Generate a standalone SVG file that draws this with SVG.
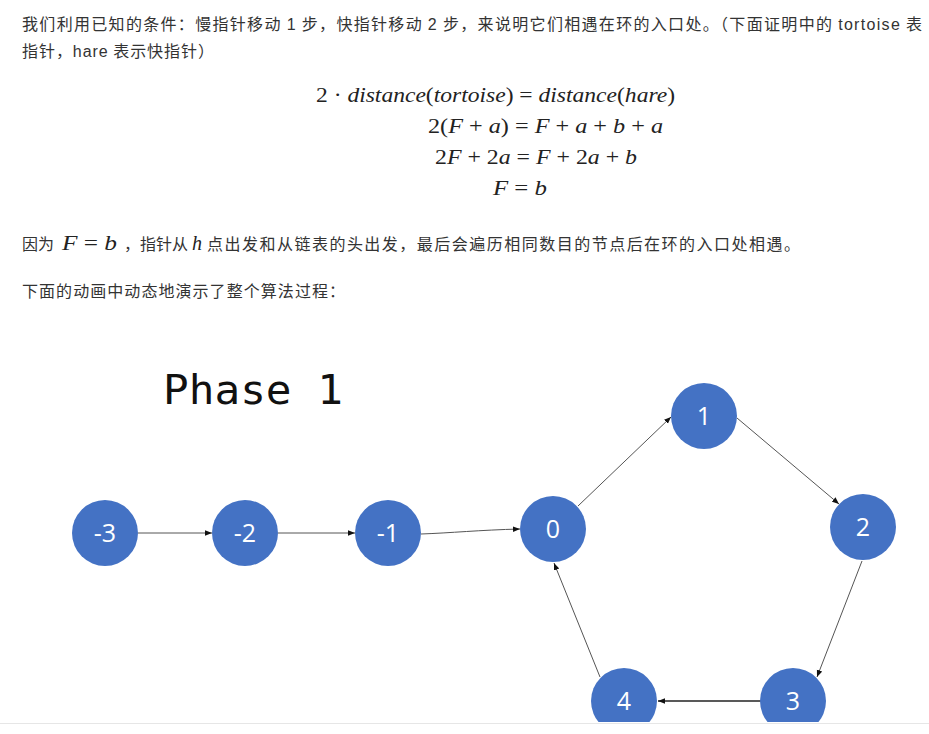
<svg xmlns="http://www.w3.org/2000/svg" width="929" height="734" viewBox="0 0 929 734">
<style>
.body{font-family:"Noto Sans CJK SC","Liberation Sans",sans-serif;font-size:16px;fill:#333}
.lat{font-family:"Liberation Sans","Noto Sans CJK SC",sans-serif}
.math{font-family:"Liberation Serif","DejaVu Serif",serif;font-size:20px;fill:#222}
.it{font-style:italic}
.node circle{fill:#4472C4}
.node text{font-family:"Open Sans","Noto Sans",sans-serif;font-size:25px;fill:#fff;text-anchor:middle}
.edge{fill:none;stroke:#555;stroke-width:1}
.edge.strong{stroke:#222;stroke-width:1.5}
.title{font-family:"DejaVu Sans Mono","Liberation Mono",monospace;font-size:40px;fill:#111}
</style>
<defs>
<marker id="ah" viewBox="0 0 10 10" refX="10" refY="5" markerWidth="7" markerHeight="7" markerUnits="userSpaceOnUse" orient="auto">
<path d="M0,1 L10,5 L0,9 z" fill="#111"/>
</marker>
<clipPath id="clip"><rect x="0" y="0" width="929" height="722"/></clipPath>
</defs>
<rect width="929" height="734" fill="#fff"/>

<g id="paragraph">
<text class="body" x="22" y="30" textLength="900" lengthAdjust="spacing">我们利用已知的条件：慢指针移动 <tspan class="lat">1</tspan> 步，快指针移动 <tspan class="lat">2</tspan> 步，来说明它们相遇在环的入口处。（下面证明中的 <tspan class="lat">tortoise</tspan> 表</text>
<text class="body" x="22" y="57" textLength="192" lengthAdjust="spacing">指针，<tspan class="lat">hare</tspan> 表示快指针）</text>
</g>

<g id="equations">
<text class="math" x="316" y="102" textLength="359" lengthAdjust="spacingAndGlyphs">2 · <tspan class="it">distance</tspan>(<tspan class="it">tortoise</tspan>) = <tspan class="it">distance</tspan>(<tspan class="it">hare</tspan>)</text>
<text class="math" x="428" y="133" textLength="235" lengthAdjust="spacingAndGlyphs">2(<tspan class="it">F</tspan> + <tspan class="it">a</tspan>) = <tspan class="it">F</tspan> + <tspan class="it">a</tspan> + <tspan class="it">b</tspan> + <tspan class="it">a</tspan></text>
<text class="math" x="435" y="164" textLength="202" lengthAdjust="spacingAndGlyphs">2<tspan class="it">F</tspan> + 2<tspan class="it">a</tspan> = <tspan class="it">F</tspan> + 2<tspan class="it">a</tspan> + <tspan class="it">b</tspan></text>
<text class="math" x="493" y="195" textLength="54" lengthAdjust="spacingAndGlyphs"><tspan class="it">F</tspan> = <tspan class="it">b</tspan></text>
</g>

<g id="explanation">
<text class="body" x="22" y="250">因为</text>
<text class="math" x="62" y="250" textLength="55" lengthAdjust="spacingAndGlyphs"><tspan class="it">F</tspan> = <tspan class="it">b</tspan></text>
<text class="body" x="124" y="250">，指针从</text>
<text class="math it" x="192" y="250">h</text>
<text class="body" x="207" y="250" textLength="593" lengthAdjust="spacing">点出发和从链表的头出发，最后会遍历相同数目的节点后在环的入口处相遇。</text>
<text class="body" x="22" y="297" textLength="323" lengthAdjust="spacing">下面的动画中动态地演示了整个算法过程：</text>
</g>

<g clip-path="url(#clip)">
<text id="phase-title" class="title" x="163" y="404" textLength="180" lengthAdjust="spacingAndGlyphs">Phase 1</text>

<g id="connectors">
<line class="edge" x1="138" y1="533" x2="212" y2="533" marker-end="url(#ah)"/>
<line class="edge" x1="278" y1="533" x2="355" y2="533" marker-end="url(#ah)"/>
<path class="edge" d="M421,534 C450,533 480,530 520,529" marker-end="url(#ah)"/>
<line class="edge" x1="578" y1="506" x2="671" y2="417" marker-end="url(#ah)"/>
<line class="edge" x1="737" y1="418" x2="839" y2="504" marker-end="url(#ah)"/>
<line class="edge" x1="862" y1="561" x2="817" y2="677" marker-end="url(#ah)"/>
<line class="edge strong" x1="761" y1="701" x2="658" y2="701" marker-end="url(#ah)"/>
<line class="edge" x1="600" y1="677" x2="554" y2="563" marker-end="url(#ah)"/>
</g>

<g id="node-m3" class="node"><circle cx="105" cy="533" r="33"/><text x="105" y="542">-3</text></g>
<g id="node-m2" class="node"><circle cx="245" cy="533" r="33"/><text x="245" y="542">-2</text></g>
<g id="node-m1" class="node"><circle cx="388" cy="533" r="33"/><text x="388" y="542">-1</text></g>
<g id="node-0" class="node"><circle cx="553" cy="529" r="33"/><text x="553" y="538">0</text></g>
<g id="node-1" class="node"><circle cx="704" cy="416" r="33"/><text x="704" y="425">1</text></g>
<g id="node-2" class="node"><circle cx="863" cy="527" r="33"/><text x="863" y="536">2</text></g>
<g id="node-3" class="node"><circle cx="793" cy="701" r="33"/><text x="793" y="710">3</text></g>
<g id="node-4" class="node"><circle cx="624" cy="701" r="33"/><text x="624" y="710">4</text></g>
</g>

<line x1="0" y1="723.5" x2="929" y2="723.5" stroke="#e6e6e6" stroke-width="1"/>
</svg>
